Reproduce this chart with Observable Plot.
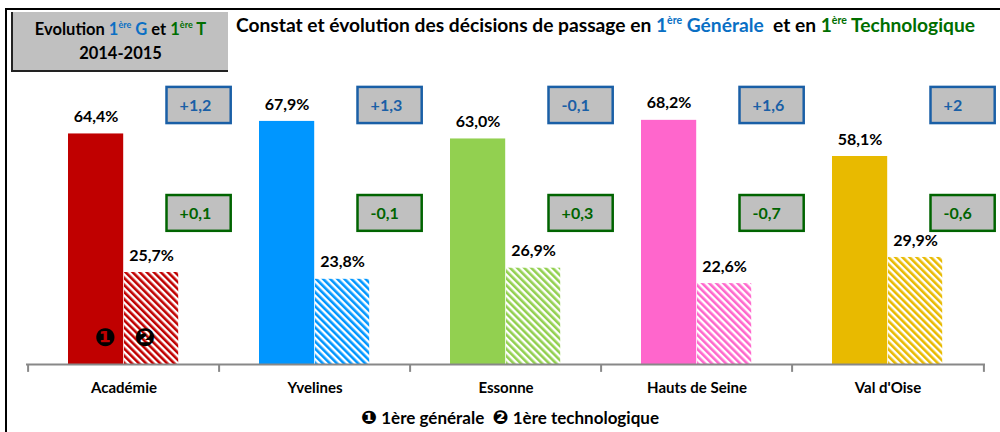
<!DOCTYPE html>
<html><head><meta charset="utf-8">
<script src="https://cdn.jsdelivr.net/npm/d3@7"></script>
<script src="https://cdn.jsdelivr.net/npm/@observablehq/plot@0.6"></script>
<style>
body{margin:0;background:#fff;}
#wrap{position:relative;width:1000px;height:432px;overflow:hidden;font-family:Lato,"Open Sans",sans-serif;font-weight:bold;color:#000;}
#frame{position:absolute;left:5px;top:8px;width:1000px;height:430px;border-left:2px solid #000;border-top:2px solid #000;}
#chart{position:absolute;left:0;top:0;}
#box{position:absolute;left:11px;top:12px;width:215px;height:58px;background:#c0c0c0;border-left:2px solid #222;border-bottom:2px solid #222;text-align:center;font-size:16.5px;}
#box .l1{position:absolute;left:0;right:0;top:7px;}
#box .l2{position:absolute;left:0;right:0;top:31px;}
#title{position:absolute;left:236px;top:13px;font-size:19.2px;white-space:nowrap;}
sup{font-size:0.55em;vertical-align:0.75em;line-height:0;}
.b{color:#0a6fc4;} .g{color:#006e00;}
#legend{position:absolute;left:0;width:1020px;top:406px;text-align:center;font-size:17px;white-space:nowrap;}
#legend .n{font-family:"DejaVu Sans";font-size:19px;}
</style>
</head><body>
<div id="wrap">
  <div id="frame"></div>
  <div id="chart"></div>
  <div id="box"><div class="l1">Evolution <span class="b">1<sup>ère</sup> G</span> et <span class="g">1<sup>ère</sup> T</span></div><div class="l2">2014-2015</div></div>
  <div id="title">Constat et évolution des décisions de passage en <span class="b">1<sup>ère</sup> Générale</span>&nbsp; et en <span class="g">1<sup>ère</sup> Technologique</span></div>
  <div id="legend"><span class="n">❶</span> 1ère générale&nbsp; <span class="n">❷</span> 1ère technologique</div>
</div>
<script>
const categories = ["Académie", "Yvelines", "Essonne", "Hauts de Seine", "Val d'Oise"];
const generale = [64.4, 67.9, 63.0, 68.2, 58.1];
const techno = [25.7, 23.8, 26.9, 22.6, 29.9];
const evolGenerale = [1.2, 1.3, -0.1, 1.6, 2];
const evolTechno = [0.1, -0.1, 0.3, -0.7, -0.6];
const colors = ["#c00000", "#0096ff", "#92d050", "#ff66cc", "#e8ba00"];

const rows = categories.map((c, i) => ({cat: c, g: generale[i], t: techno[i], dg: evolGenerale[i], dt: evolTechno[i], color: colors[i], hatch: `url(#hatch${i})`}));
const fmtPct = v => v.toFixed(1).replace(".", ",") + "%";
const fmtEvol = v => (v > 0 ? "+" : "") + String(v).replace(".", ",");

const W = 1000, H = 432, mL = 26, mR = 15, mT = 6, mB = 68;
const bw = (W - mL - mR) / categories.length;
const gL = 40, gR = 96, tL = 96, tR = 151;
const boxL = 138.5, boxW = 65;
const blue = "#1a5fa6", green = "#006400";
const font = "Lato, 'Open Sans', sans-serif";

const svg = Plot.plot({
  width: W, height: H,
  marginLeft: mL, marginRight: mR, marginTop: mT, marginBottom: mB,
  x: {domain: categories, type: "band", padding: 0, axis: null},
  y: {domain: [0, 100], axis: null},
  color: {type: "identity"},
  style: {fontFamily: font, fontWeight: "bold", background: "transparent"},
  marks: [
    Plot.barY(rows, {x: "cat", y: "g", fill: "color", insetLeft: gL, insetRight: bw - gR}),
    Plot.barY(rows, {x: "cat", y: "t", fill: "hatch", insetLeft: tL, insetRight: bw - tR}),
    Plot.text(rows, {x: "cat", y: "g", text: d => fmtPct(d.g), dx: (gL + gR) / 2 - bw / 2, dy: -17, fontSize: 16, fontWeight: "bold", fill: "#000"}),
    Plot.text(rows, {x: "cat", y: "t", text: d => fmtPct(d.t), dx: (tL + tR) / 2 - bw / 2, dy: -17, fontSize: 16, fontWeight: "bold", fill: "#000"}),
    Plot.barY(rows, {x: "cat", y1: 67.3, y2: 77.4, fill: "#c0c0c0", stroke: blue, strokeWidth: 2.5, insetLeft: boxL, insetRight: bw - boxL - boxW}),
    Plot.barY(rows, {x: "cat", y1: 37.2, y2: 47.2, fill: "#c0c0c0", stroke: green, strokeWidth: 2.5, insetLeft: boxL, insetRight: bw - boxL - boxW}),
    Plot.text(rows, {x: "cat", y: 72.3, text: d => fmtEvol(d.dg), dx: boxL + 13 - bw / 2, textAnchor: "start", fontSize: 16, fontWeight: "bold", fill: blue}),
    Plot.text(rows, {x: "cat", y: 42.2, text: d => fmtEvol(d.dt), dx: boxL + 13 - bw / 2, textAnchor: "start", fontSize: 16, fontWeight: "bold", fill: green}),
    Plot.text([categories[0]], {x: d => d, y: 7.5, text: ["❶"], dx: -19, fontSize: 25, fontFamily: "DejaVu Sans", fill: "#000"}),
    Plot.text([categories[0]], {x: d => d, y: 7.5, text: ["❷"], dx: 21, fontSize: 25, fontFamily: "DejaVu Sans", fill: "#000"}),
    Plot.ruleY([0], {stroke: "#888", strokeWidth: 2}),
    Plot.ruleX(categories, {x: d => d, y1: 0, y2: -2.2, dx: -bw / 2, stroke: "#888", strokeWidth: 2}),
    Plot.ruleX([categories[categories.length - 1]], {x: d => d, y1: 0, y2: -2.2, dx: bw / 2, stroke: "#888", strokeWidth: 2}),
    Plot.text(categories, {x: d => d, y: 0, text: d => d, dy: 24, fontSize: 15, fontWeight: "bold", fill: "#000"})
  ]
});

const defs = d3.select(svg).insert("defs", ":first-child");
colors.forEach((c, i) => {
  const p = defs.append("pattern").attr("id", `hatch${i}`).attr("patternUnits", "userSpaceOnUse")
    .attr("width", 5).attr("height", 5).attr("patternTransform", "rotate(-45)");
  p.append("rect").attr("width", 5).attr("height", 5).attr("fill", "#fff");
  p.append("rect").attr("width", 2.6).attr("height", 5).attr("fill", c);
});
document.getElementById("chart").appendChild(svg);
</script>
</body></html>
